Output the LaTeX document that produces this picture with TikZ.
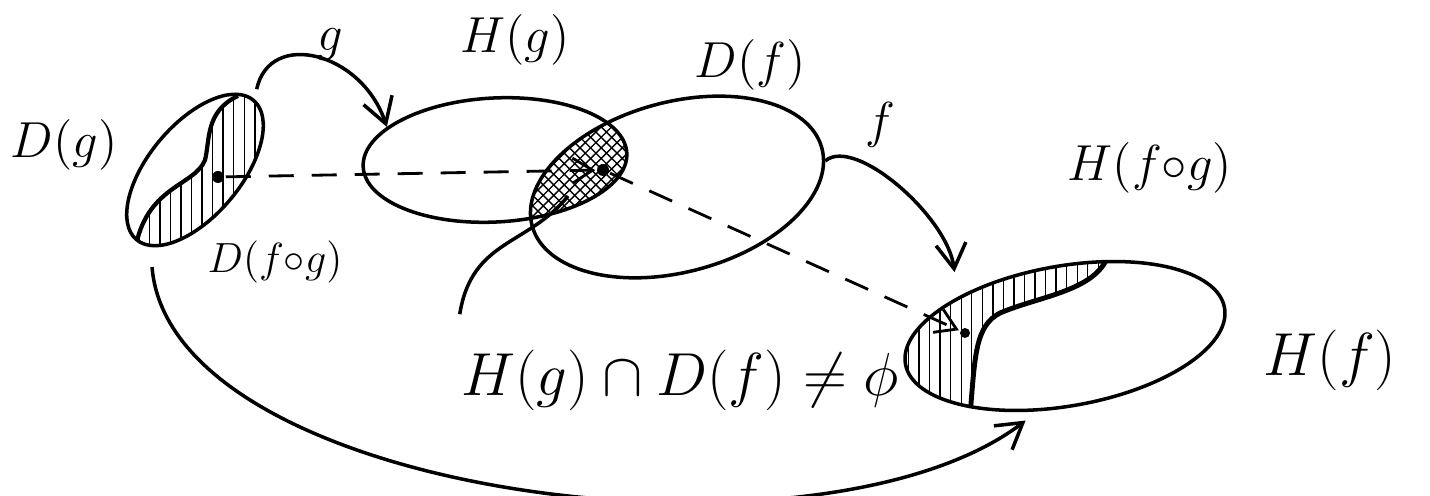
\documentclass[tikz,border=0pt]{standalone}
\usepackage{amsmath}
\usetikzlibrary{shapes.geometric,arrows.meta,patterns}

\begin{document}
\begin{tikzpicture}[x=0.1mm,y=0.1mm,line width=1pt,
  set/.style={draw,ellipse,inner sep=0pt,line width=1pt},
  conn/.style={-{Straight Barb[length=2.5mm,width=3mm]},line width=1pt},
  track/.style={-{Straight Barb[length=2mm,width=2.5mm]},dash pattern=on 2.5mm off 1.8mm,line width=0.8pt},
  dot/.style={circle,fill,inner sep=0pt,minimum size=1.2mm},
  lbl/.style={font=\Large}]
\useasboundingbox (0,0) rectangle (1430,496);
% hatched part of D(g)
\begin{scope}
\clip[rotate around={50:(195,326)}] (195,326) ellipse [x radius=91, y radius=46];
\fill[pattern=vertical lines] (238,400) .. controls (205,385) and (210,355) .. (205,336)
  .. controls (195,310) and (145,310) .. (135,245) -- (320,150) -- (320,420) -- cycle;
\draw[line width=1.2pt] (238,400) .. controls (205,385) and (210,355) .. (205,336)
  .. controls (195,310) and (145,310) .. (135,245);
\end{scope}
% H(g) cap D(f)
\begin{scope}
\clip[rotate around={3:(495,336)}] (495,336) ellipse [x radius=132, y radius=62];
\fill[pattern=crosshatch,rotate around={15:(677,309)}] (677,309) ellipse [x radius=150, y radius=85];
\end{scope}
% hatched part of H(f)
\begin{scope}
\clip[rotate around={10:(1065,160)}] (1065,160) ellipse [x radius=162, y radius=70];
\fill[pattern=vertical lines] (1108,240) .. controls (1095,205) and (1040,200) .. (1000,183)
  .. controls (975,170) and (975,140) .. (970,80) -- (880,80) -- (880,240) -- cycle;
\draw[line width=1.4pt] (1108,240) .. controls (1095,205) and (1040,200) .. (1000,183)
  .. controls (975,170) and (975,140) .. (970,80);
\end{scope}
% the sets
\node[set,minimum width=18.2mm,minimum height=9.2mm,rotate=50] (Dg) at (195,326) {};
\node[set,minimum width=26.4mm,minimum height=12.4mm,rotate=3] (Hg) at (495,336) {};
\node[set,minimum width=30mm,minimum height=17mm,rotate=15] (Df) at (677,309) {};
\node[set,minimum width=32.4mm,minimum height=14mm,rotate=10] (Hf) at (1065,160) {};
% labels
\node[lbl] (lDg) at (64,351) {$D(g)$};
\node[lbl] (lg) at (330,451) {$g$};
\node[lbl] (lHg) at (515,456) {$H(g)$};
\node[lbl] (lDf) at (750,431) {$D(f)$};
\node[lbl] (lf) at (880,371) {$f$};
\node[lbl] (lHfg) at (1150,328) {$H(f{\circ}g)$};
\node[font=\large] (lDfg) at (275,234) {$D(f{\circ}g)$};
\node[font=\LARGE] (lcap) at (680,116) {$H(g)\cap D(f)\neq\phi$};
\node[font=\LARGE] (lHf) at (1330,136) {$H(f)$};
% points
\node[dot] (p1) at (218,319) {};
\node[dot] (p2) at (603,326) {};
\node[dot,minimum size=1mm] (p3) at (965,163) {};
\coordinate (meet) at (568,300);
% maps
\draw[conn,shorten <=1mm] (Dg.east) .. controls +(15,70) and +(-25,75) .. (Hg.160);
\draw[conn,shorten >=2.5mm] (Df.-5) .. controls +(30,25) and +(-10,80) .. (Hf.150);
\draw[conn,shorten <=2mm,shorten >=1.5mm] (Dg.190) .. controls +(20,-250) and +(-218,-166) .. (Hf.240);
\draw[track] (p1) -- (p2);
\draw[track] (p2) -- (p3);
\draw ([shift={(12,22)}]lcap.north west) .. controls +(12,75) and +(-40,-50) .. (meet);
\end{tikzpicture}
\end{document}
